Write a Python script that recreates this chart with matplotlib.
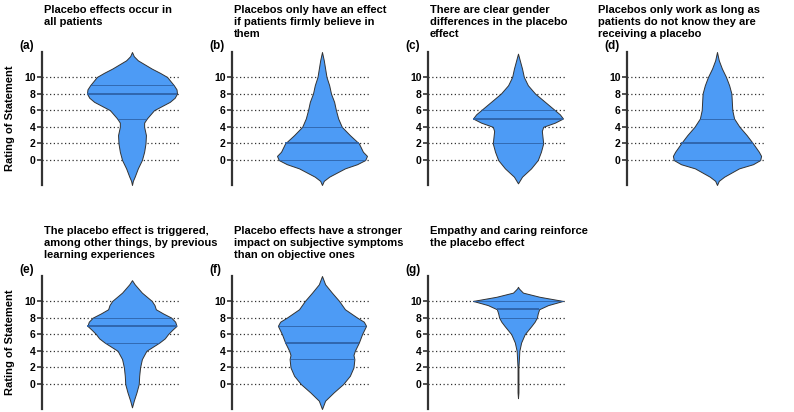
import numpy as np
import matplotlib
matplotlib.use('Agg')
import matplotlib.pyplot as plt

plt.rcParams['font.family'] = ['Liberation Sans', 'DejaVu Sans']

# Panel titles and labels
titles = [
    "Placebo effects occur in\nall patients",
    "Placebos only have an effect\nif patients firmly believe in\nthem",
    "There are clear gender\ndifferences in the placebo\neffect",
    "Placebos only work as long as\npatients do not know they are\nreceiving a placebo",
    "The placebo effect is triggered,\namong other things, by previous\nlearning experiences",
    "Placebo effects have a stronger\nimpact on subjective symptoms\nthan on objective ones",
    "Empathy and caring reinforce\nthe placebo effect",
]
panel_labels = ['(a)', '(b)', '(c)', '(d)', '(e)', '(f)', '(g)']

# Violin outlines: rating level and relative density (max = 1)
a_levels = [-3, -2.5, -2, -1, 0, 1, 2, 3, 4, 4.5, 5, 6, 7, 7.5, 8, 8.5, 9, 10, 10.5, 11, 12, 12.5, 13]
a_density = [0, 0.02, 0.06, 0.13, 0.22, 0.27, 0.3, 0.31, 0.27, 0.27, 0.33, 0.49, 0.84, 0.95, 1.0, 0.99, 0.93, 0.78, 0.62, 0.44, 0.13, 0.04, 0]

b_levels = [-3, -2.5, -2, -1, -0.5, 0, 0.5, 1, 2, 3, 4, 5, 6, 7, 8, 9, 10, 11, 12, 13]
b_density = [0, 0.04, 0.16, 0.51, 0.78, 0.96, 1.0, 0.91, 0.82, 0.62, 0.44, 0.36, 0.31, 0.27, 0.2, 0.16, 0.1, 0.07, 0.04, 0]

c_levels = [-2.8, -2, -1, 0, 1, 2, 3, 3.5, 4, 4.5, 5, 5.5, 6, 7, 8, 9, 10, 11, 12, 12.8]
c_density = [0, 0.09, 0.29, 0.44, 0.51, 0.56, 0.54, 0.53, 0.56, 0.82, 1.0, 0.93, 0.82, 0.6, 0.38, 0.22, 0.13, 0.09, 0.04, 0]

d_levels = [-3, -2.5, -2, -1, -0.5, 0, 0.5, 1, 2, 3, 4, 5, 6, 7, 8, 9, 10, 11, 12, 13]
d_density = [0, 0.04, 0.16, 0.49, 0.8, 0.96, 0.98, 0.93, 0.8, 0.66, 0.5, 0.38, 0.34, 0.33, 0.32, 0.27, 0.2, 0.11, 0.04, 0]

e_levels = [-2.8, -2, -1, 0, 1, 2, 3, 4, 5, 5.5, 6, 6.5, 7, 7.5, 8, 8.5, 9, 9.5, 10, 11, 12, 12.5]
e_density = [0, 0.04, 0.1, 0.15, 0.16, 0.18, 0.22, 0.32, 0.61, 0.73, 0.8, 0.89, 0.99, 0.96, 0.87, 0.69, 0.53, 0.5, 0.44, 0.22, 0.06, 0]

f_levels = [-3, -2, -1, 0, 1, 2, 3, 3.5, 4, 5, 6, 7, 7.5, 8, 9, 10, 11, 12, 13]
f_density = [0, 0.07, 0.26, 0.47, 0.62, 0.7, 0.72, 0.7, 0.73, 0.82, 0.89, 0.98, 0.93, 0.78, 0.51, 0.38, 0.22, 0.07, 0]

g_levels = [-1.7, -1, 0, 1, 2, 3, 4, 5, 6, 7, 7.5, 8, 8.5, 9, 9.5, 10, 10.5, 11, 11.5, 11.7]
g_density = [0, 0.01, 0.01, 0.01, 0.01, 0.02, 0.03, 0.07, 0.15, 0.3, 0.37, 0.42, 0.44, 0.47, 0.67, 1.0, 0.48, 0.11, 0.02, 0]

# Quartiles (Q1, median, Q3)
q1 = [5, 0, 2, 0, 5, 3, 8]
medians = [8, 2, 5, 2, 7, 5, 9]
q3 = [9, 4, 6, 5, 8, 7, 10]

yticks = [0, 2, 4, 6, 8, 10]

levels_all = [a_levels, b_levels, c_levels, d_levels, e_levels, f_levels, g_levels]
density_all = [a_density, b_density, c_density, d_density, e_density, f_density, g_density]

FILL = '#4d9bf5'
LINE = '#2d62a8'

W, H = 794, 412
fig = plt.figure(figsize=(W / 100, H / 100), dpi=100)

col_left = [42, 232, 428, 627]   # spine position in px
row_top = [52, 276]              # top of axes in px
title_top = [5, 226]             # top of title block in px
ax_w, ax_h = 138, 133


def draw_violin(ax, levels, density, q_lo, q_med, q_hi):
    lv = np.array(levels)
    dn = np.array(density)
    ax.fill_betweenx(lv, -dn, dn, facecolor=FILL, edgecolor='#333333',
                     linewidth=0.7, zorder=3)
    for q, lw in [(q_lo, 0.6), (q_med, 1.3), (q_hi, 0.6)]:
        w = np.interp(q, lv, dn)
        ax.plot([-w, w], [q, q], color=LINE, lw=lw, zorder=4,
                solid_capstyle='butt')


for i in range(7):
    r, c = divmod(i, 4)
    left = col_left[c]
    top = row_top[r]
    ax = fig.add_axes([left / W, 1 - (top + ax_h) / H, ax_w / W, ax_h / H])
    ax.set_xlim(-2.0, 1.067)
    ax.set_ylim(-3, 13)

    for yv in yticks:
        ax.axhline(yv, color='#333333', lw=0.9, linestyle=(0, (1, 2)), zorder=1)

    draw_violin(ax, levels_all[i], density_all[i], q1[i], medians[i], q3[i])

    for s in ['top', 'right', 'bottom']:
        ax.spines[s].set_visible(False)
    ax.spines['left'].set_linewidth(1.6)
    ax.spines['left'].set_color('#333333')
    ax.set_xticks([])
    ax.set_yticks(yticks)
    ax.tick_params(axis='y', direction='out', length=3.5, width=1.2,
                   color='#333333', labelsize=7.5, pad=1)
    for lab in ax.get_yticklabels():
        lab.set_fontweight('bold')

    # panel letter
    fig.text((left - 23) / W, 1 - (top - 6) / H, panel_labels[i],
             fontsize=8.5, fontweight='bold', ha='left', va='center')

    # title block (d is shifted left so it fits in the figure)
    tx = 598 if i == 3 else left + 2
    fig.text(tx / W, 1 - title_top[r] / H, titles[i], fontsize=8,
             fontweight='bold', ha='left', va='top', ma='left',
             linespacing=1.25)

    if c == 0:
        fig.text(10 / W, 1 - (top + ax_h / 2) / H, 'Rating of Statement',
                 fontsize=8, fontweight='bold', rotation=90,
                 ha='center', va='center')

fig.savefig('out.png', dpi=100)
